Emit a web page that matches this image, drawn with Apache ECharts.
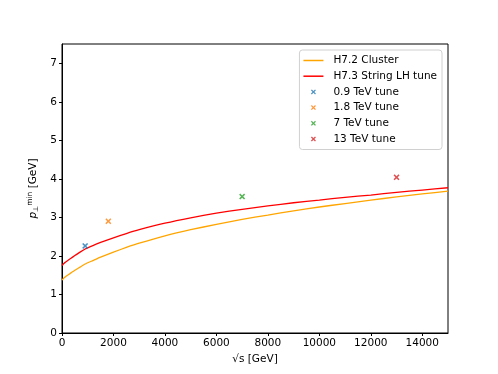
<!DOCTYPE html>
<html>
<head>
<meta charset="utf-8">
<script src="https://cdn.jsdelivr.net/npm/echarts@6/dist/echarts.min.js"></script>
<style>
  html, body { margin: 0; padding: 0; background: #fff; }
</style>
</head>
<body>
<div id="myChart" style="width: 498px; height: 374px;"></div>
<script>
// 数据
let sqrtS = [0, 50, 100, 200, 350, 500, 700, 900, 1200, 1500, 2000, 2500, 3000, 4000, 5000, 6000, 7000, 8000, 9000, 10000, 11000, 12000, 13000, 14000, 15000]
let cluster72 = [1.37, 1.41, 1.44, 1.49, 1.56, 1.63, 1.71, 1.79, 1.88, 1.97, 2.10, 2.22, 2.33, 2.52, 2.68, 2.82, 2.95, 3.06, 3.17, 3.27, 3.36, 3.45, 3.53, 3.61, 3.68]
let string73 = [1.75, 1.79, 1.82, 1.87, 1.94, 2.01, 2.10, 2.18, 2.27, 2.35, 2.47, 2.58, 2.68, 2.85, 2.99, 3.11, 3.21, 3.30, 3.38, 3.45, 3.52, 3.58, 3.65, 3.71, 3.77]
let tuneNames = ['0.9 TeV tune', '1.8 TeV tune', '7 TeV tune', '13 TeV tune']
let tuneX = [900, 1800, 7000, 13000]
let tuneY = [2.26, 2.90, 3.54, 4.04]
let tuneColors = ['#1f77b4', '#ff7f0e', '#2ca02c', '#d62728']
let xTicks = [0, 2000, 4000, 6000, 8000, 10000, 12000, 14000]
let yTicks = [0, 1, 2, 3, 4, 5, 6, 7]

let font = 'DejaVu Sans'
let crossPath = 'path://M0,1.8L1.8,0L5,3.2L8.2,0L10,1.8L6.8,5L10,8.2L8.2,10L5,6.8L1.8,10L0,8.2L3.2,5Z'
let linePath = 'path://M0,0h20v1.5h-20z'

let myChart = echarts.init(document.getElementById('myChart'))

let series = [
    {
        name: 'H7.2 Cluster',
        type: 'line',
        data: sqrtS.map((x, i) => [x, cluster72[i]]),
        showSymbol: false,
        smooth: 0.15,
        lineStyle: {color: '#ffa500', width: 1.3},
        itemStyle: {color: '#ffa500'},
        z: 2
    },
    {
        name: 'H7.3 String LH tune',
        type: 'line',
        data: sqrtS.map((x, i) => [x, string73[i]]),
        showSymbol: false,
        smooth: 0.15,
        lineStyle: {color: '#ff0000', width: 1.3},
        itemStyle: {color: '#ff0000'},
        z: 3
    }
]
tuneNames.forEach((n, i) => {
    series.push({
        name: n,
        type: 'scatter',
        data: [[tuneX[i], tuneY[i]]],
        symbol: crossPath,
        symbolSize: 6,
        itemStyle: {color: tuneColors[i]},
        z: 4
    })
})

let legendData = [
    {name: 'H7.2 Cluster', icon: linePath},
    {name: 'H7.3 String LH tune', icon: linePath}
].concat(tuneNames.map(n => ({name: n, icon: crossPath})))

myChart.setOption({
    animation: false,
    textStyle: {fontFamily: font},
    grid: {
        left: 62, right: 50, top: 44, bottom: 41,
        show: true, borderColor: '#000', borderWidth: 1,
        backgroundColor: 'transparent'
    },
    legend: {
        orient: 'vertical',
        right: 56,
        top: 50,
        data: legendData,
        itemWidth: 20,
        itemHeight: 5,
        itemGap: 4.7,
        padding: [5, 5, 5, 4],
        borderColor: '#d0d0d0',
        borderWidth: 1,
        borderRadius: 3,
        backgroundColor: '#fff',
        align: 'left',
        textStyle: {fontFamily: font, fontSize: 10.5, color: '#000', padding: [0, 0, 0, 5]}
    },
    xAxis: {
        type: 'value',
        min: 0,
        max: 15000,
        interval: 2000,
        name: '√s [GeV]',
        nameLocation: 'middle',
        nameGap: 19,
        nameTextStyle: {fontFamily: font, fontSize: 10.5, color: '#000', verticalAlign: 'top'},
        splitLine: {show: false},
        axisLine: {lineStyle: {color: '#000', width: 1}},
        axisTick: {show: true, length: 3, lineStyle: {color: '#000'}, customValues: xTicks},
        axisLabel: {color: '#000', fontSize: 10.5, margin: 5, customValues: xTicks, formatter: v => String(v)}
    },
    yAxis: {
        type: 'value',
        min: 0,
        max: 7.5,
        interval: 1,
        name: '{p|p}{sub|⊥}{sup|min} [GeV]',
        nameLocation: 'middle',
        nameGap: 14,
        nameRotate: 90,
        nameTextStyle: {
            fontFamily: font, fontSize: 10.5, color: '#000',
            rich: {
                p: {fontFamily: font, fontSize: 10.5, fontStyle: 'italic', color: '#000'},
                sub: {fontFamily: font, fontSize: 7, color: '#000', padding: [6, 0, 0, 0]},
                sup: {fontFamily: font, fontSize: 7.5, color: '#000', padding: [0, 0, 6, 0]}
            }
        },
        splitLine: {show: false},
        axisLine: {show: true, lineStyle: {color: '#000', width: 1}},
        axisTick: {show: true, length: 3, lineStyle: {color: '#000'}, customValues: yTicks},
        axisLabel: {color: '#000', fontSize: 10.5, margin: 5, customValues: yTicks}
    },
    series: series
})
</script>
</body>
</html>
